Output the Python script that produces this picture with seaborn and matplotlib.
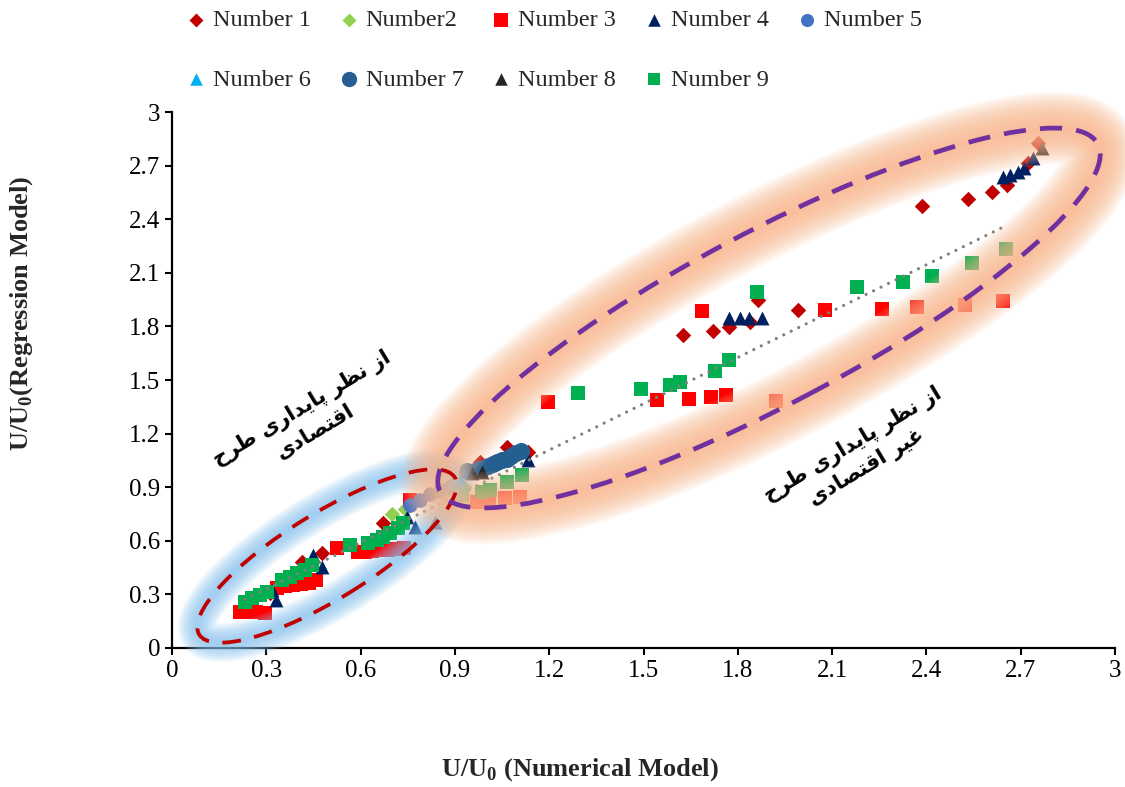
import numpy as np
import matplotlib
matplotlib.use("Agg")
import matplotlib.pyplot as plt
import seaborn as sns
from matplotlib.patches import Ellipse

# ---------------- data ----------------
n1_x = [0.312, 0.414, 0.477, 0.671, 0.98, 1.066, 1.133, 1.626, 1.721, 1.772, 1.839, 1.864,
        1.992, 2.386, 2.532, 2.609, 2.656, 2.723, 2.755]
n1_y = [0.308, 0.481, 0.532, 0.700, 1.04, 1.125, 1.097, 1.752, 1.774, 1.797, 1.825, 1.948,
        1.892, 2.474, 2.513, 2.552, 2.591, 2.714, 2.826]

n2_x = [0.70, 0.74, 0.86, 0.90, 0.93]
n2_y = [0.75, 0.78, 0.86, 0.88, 0.90]

n3_x = [0.216, 0.242, 0.267, 0.296, 0.334, 0.360, 0.385, 0.410, 0.436, 0.458, 0.525, 0.592,
        0.614, 0.636, 0.662, 0.687, 0.713, 0.738, 0.757, 0.970, 1.010, 1.059, 1.107, 1.196,
        1.543, 1.645, 1.686, 1.715, 1.762, 1.922, 2.077, 2.259, 2.370, 2.523, 2.644]
n3_y = [0.201, 0.201, 0.201, 0.196, 0.336, 0.347, 0.353, 0.358, 0.364, 0.380, 0.560, 0.537,
        0.537, 0.543, 0.548, 0.548, 0.554, 0.560, 0.828, 0.817, 0.830, 0.840, 0.845, 1.377,
        1.388, 1.394, 1.886, 1.405, 1.416, 1.382, 1.892, 1.897, 1.908, 1.920, 1.942]

n4_x = [0.318, 0.331, 0.449, 0.477, 0.748, 0.773, 0.837, 1.133, 1.772, 1.807, 1.836, 1.877,
        2.644, 2.666, 2.691, 2.711, 2.739]
n4_y = [0.325, 0.269, 0.520, 0.453, 0.733, 0.677, 0.705, 1.052, 1.847, 1.847, 1.847, 1.847,
        2.636, 2.647, 2.664, 2.687, 2.742]

n5_x = [0.757, 0.789, 0.821, 0.853, 0.884]
n5_y = [0.800, 0.828, 0.862, 0.884, 0.901]

n6_x = [0.891, 0.916]
n6_y = [0.923, 0.940]

n7_x = [0.94, 0.975, 0.99, 1.005, 1.02, 1.035, 1.05, 1.065, 1.08, 1.095, 1.11]
n7_y = [0.99, 1.00, 1.01, 1.02, 1.03, 1.04, 1.05, 1.06, 1.075, 1.09, 1.105]

n8_x = [0.955, 0.986, 2.768]
n8_y = [0.979, 0.985, 2.798]

n9_x = [0.232, 0.255, 0.280, 0.302, 0.350, 0.375, 0.398, 0.423, 0.445, 0.566, 0.624, 0.652,
        0.671, 0.694, 0.719, 0.735, 0.922, 0.986, 1.012, 1.066, 1.113, 1.292, 1.492, 1.584,
        1.616, 1.727, 1.772, 1.861, 2.179, 2.326, 2.418, 2.545, 2.653]
n9_y = [0.257, 0.280, 0.297, 0.313, 0.380, 0.397, 0.420, 0.437, 0.465, 0.576, 0.588, 0.604,
        0.621, 0.644, 0.672, 0.700, 0.856, 0.873, 0.884, 0.929, 0.968, 1.427, 1.450, 1.472,
        1.489, 1.550, 1.612, 1.992, 2.020, 2.048, 2.082, 2.155, 2.233]

series_names = ["Number 1", "Number2", "Number 3", "Number 4", "Number 5",
                "Number 6", "Number 7", "Number 8", "Number 9"]
tick_values = [0, 0.3, 0.6, 0.9, 1.2, 1.5, 1.8, 2.1, 2.4, 2.7, 3]
tick_labels = ["0", "0.3", "0.6", "0.9", "1.2", "1.5", "1.8", "2.1", "2.4", "2.7", "3"]

zone_text_left = ["از نظر پایداری طرح", "اقتصادی"]
zone_text_right = ["از نظر پایداری طرح", "غیر اقتصادی"]

# ---------------- styling ----------------
sns.set_theme(style="white")
plt.rcParams["font.family"] = ["Liberation Serif", "DejaVu Sans"]
plt.rcParams["mathtext.fontset"] = "custom"
plt.rcParams["mathtext.rm"] = "Liberation Serif"
plt.rcParams["mathtext.bf"] = "Liberation Serif:bold"

W, H = 1125, 787
fig = plt.figure(figsize=(W / 100, H / 100), dpi=100)
ax = fig.add_axes([172 / W, 139 / H, 943 / W, 536 / H])

series = [
    (n1_x, n1_y, "D", "#C00000", 62),
    (n2_x, n2_y, "D", "#92D050", 62),
    (n3_x, n3_y, "s", "#FF0000", 110),
    (n4_x, n4_y, "^", "#002060", 100),
    (n5_x, n5_y, "o", "#4472C4", 110),
    (n6_x, n6_y, "^", "#00B0F0", 100),
    (n7_x, n7_y, "o", "#255E91", 150),
    (n8_x, n8_y, "^", "#262626", 100),
    (n9_x, n9_y, "s", "#00B050", 105),
]
for (xs, ys, mk, col, size), name in zip(series, series_names):
    sns.scatterplot(x=xs, y=ys, marker=mk, color=col, s=size, linewidth=0,
                    ax=ax, zorder=3, label=name)

# linear trend of series 9
sns.regplot(x=n9_x, y=n9_y, scatter=False, ci=None, ax=ax, truncate=True,
            line_kws=dict(color="#7F7F7F", lw=2.3, linestyle=(0, (0.01, 2.6)),
                          dash_capstyle="round", zorder=4))


# ---------------- zone ellipses with soft glow ----------------
def glow_ellipse(cx, cy, a, b, angle, glow_color, glow_alpha, line_color, glow_max,
                 line_w, dashes):
    center = (cx / 100, (H - cy) / 100)
    n = 14
    for k in range(n):
        lw = glow_max * (1 - k / n) + 2
        e = Ellipse(center, 2 * a / 100, 2 * b / 100, angle=angle,
                    transform=fig.dpi_scale_trans, fill=False,
                    edgecolor=glow_color, lw=lw, alpha=glow_alpha, zorder=5)
        ax.add_patch(e)
        e.set_clip_on(False)
    e = Ellipse(center, 2 * a / 100, 2 * b / 100, angle=angle,
                transform=fig.dpi_scale_trans, fill=False,
                edgecolor=line_color, lw=line_w, linestyle=(0, dashes), zorder=6)
    ax.add_patch(e)
    e.set_clip_on(False)


glow_ellipse(327, 556, 150, 43, 31.6, "#87C3F1", 0.09, "#C00000", 26, 2.7, (5.0, 3.6))
glow_ellipse(769, 318, 372, 86, 27.9, "#F9B78D", 0.12, "#7030A0", 50, 3.4, (4.7, 3.0))

# ---------------- Persian labels (shaped for left-to-right rendering) ----------------
FORMS = {
    "ا": ("\uFE8D", "\uFE8E", None, None),
    "ز": ("\uFEAF", "\uFEB0", None, None),
    "ر": ("\uFEAD", "\uFEAE", None, None),
    "د": ("\uFEA9", "\uFEAA", None, None),
    "ن": ("\uFEE5", "\uFEE6", "\uFEE7", "\uFEE8"),
    "ظ": ("\uFEC5", "\uFEC6", "\uFEC7", "\uFEC8"),
    "پ": ("\uFB56", "\uFB57", "\uFB58", "\uFB59"),
    "ی": ("\uFBFC", "\uFBFD", "\uFBFE", "\uFBFF"),
    "ط": ("\uFEC1", "\uFEC2", "\uFEC3", "\uFEC4"),
    "ح": ("\uFEA1", "\uFEA2", "\uFEA3", "\uFEA4"),
    "ق": ("\uFED5", "\uFED6", "\uFED7", "\uFED8"),
    "ت": ("\uFE95", "\uFE96", "\uFE97", "\uFE98"),
    "ص": ("\uFEB9", "\uFEBA", "\uFEBB", "\uFEBC"),
    "غ": ("\uFECD", "\uFECE", "\uFECF", "\uFED0"),
}


def shape_rtl(text):
    out = []
    for i, ch in enumerate(text):
        if ch not in FORMS:
            out.append(ch)
            continue
        prev = text[i - 1] if i > 0 else ""
        nxt = text[i + 1] if i + 1 < len(text) else ""
        join_prev = prev in FORMS and FORMS[prev][2] is not None
        join_next = FORMS[ch][2] is not None and nxt in FORMS
        iso, fin, ini, med = FORMS[ch]
        if join_prev and join_next:
            out.append(med)
        elif join_prev:
            out.append(fin)
        elif join_next:
            out.append(ini)
        else:
            out.append(iso)
    return "".join(reversed(out))


for lines, (px, py) in ((zone_text_left, (308, 420)), (zone_text_right, (860, 456))):
    fig.text(px / W, 1 - py / H, "\n".join(shape_rtl(t) for t in lines),
             family="DejaVu Sans", fontsize=15, fontweight="bold", rotation=31,
             ha="center", va="center", multialignment="center", linespacing=1.35,
             color="black", rotation_mode="anchor", zorder=7)

# ---------------- axes ----------------
ax.set_xlim(0, 3)
ax.set_ylim(0, 3)
ax.set_xticks(tick_values)
ax.set_xticklabels(tick_labels)
ax.set_yticks(tick_values)
ax.set_yticklabels(tick_labels)
ax.tick_params(direction="out", length=5, width=1.5, labelsize=18, color="black",
               labelcolor="black", bottom=True, left=True)
sns.despine(ax=ax)
for sp in ("left", "bottom"):
    ax.spines[sp].set_color("black")
    ax.spines[sp].set_linewidth(1.6)
ax.set_xlabel("")
ax.set_ylabel("")

fig.text(580 / W, 1 - 770 / H, r"U/U$_\mathbf{0}$ (Numerical Model)", fontsize=19,
         fontweight="bold", ha="center", va="center")
fig.text(22 / W, 1 - 313 / H, r"U/U$_\mathbf{0}$(Regression Model)", fontsize=19,
         fontweight="bold", ha="center", va="center", rotation=90)

handles, labels = ax.get_legend_handles_labels()
if ax.get_legend() is not None:
    ax.get_legend().remove()
# legend fills column by column; order entries so rows read 1-5 then 6-9
order = [0, 5, 1, 6, 2, 7, 3, 8, 4]
fig.legend([handles[i] for i in order], [labels[i] for i in order], ncol=5,
           loc="upper left", bbox_to_anchor=(184 / W, 1 - 9 / H), frameon=False,
           fontsize=17.5, handlelength=1.0, handletextpad=0.2, columnspacing=1.05,
           labelspacing=1.55, borderpad=0, borderaxespad=0, markerscale=0.9)

fig.savefig("out.png", dpi=100)
